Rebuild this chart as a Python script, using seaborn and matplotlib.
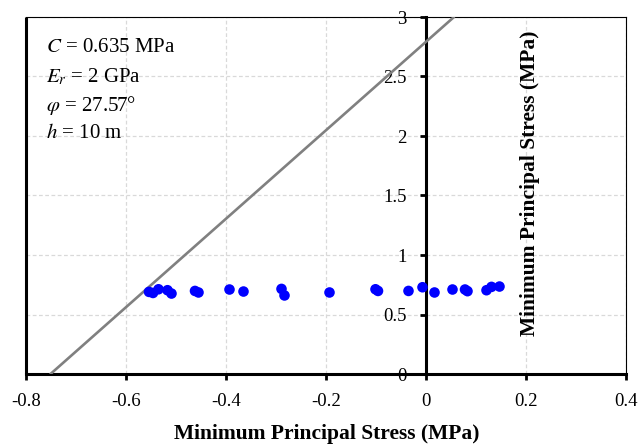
import numpy as np
import pandas as pd
import matplotlib
matplotlib.use("Agg")
import matplotlib.pyplot as plt
import seaborn as sns

# ---- data ----
sigma3_pts = [-0.554, -0.546, -0.535, -0.517, -0.509, -0.462, -0.455, -0.393, -0.365,
              -0.289, -0.283, -0.193, -0.101, -0.096, -0.035, -0.007, 0.017, 0.053,
              0.078, 0.083, 0.121, 0.131, 0.147]
sigma1_pts = [0.690, 0.681, 0.712, 0.704, 0.676, 0.698, 0.685, 0.710, 0.693,
              0.715, 0.660, 0.685, 0.712, 0.698, 0.698, 0.729, 0.685, 0.710,
              0.710, 0.696, 0.704, 0.732, 0.735]
env_sigma3 = [-0.751, 0.056]
env_sigma1 = [0.0, 3.0]
x_ticks = [-0.8, -0.6, -0.4, -0.2, 0.0, 0.2, 0.4]
x_ticklabels = ["-0.8", "-0.6", "-0.4", "-0.2", "0", "0.2", "0.4"]
y_ticks = [0, 0.5, 1, 1.5, 2, 2.5, 3]
y_ticklabels = ["0", "0.5", "1", "1.5", "2", "2.5", "3"]
params = [r"$C$ = 0.635 MPa", r"$E_r$ = 2 GPa", r"$\varphi$ = 27.57°", r"$h$ = 10 m"]
xlabel = "Minimum Principal Stress (MPa)"
ylabel = "Minimum Principal Stress (MPa)"

sns.set_style("white")
plt.rcParams["font.family"] = ["Liberation Serif", "DejaVu Serif"]
plt.rcParams["mathtext.fontset"] = "stix"
plt.rcParams["text.color"] = "black"
plt.rcParams["axes.labelcolor"] = "black"
plt.rcParams["xtick.color"] = "black"
plt.rcParams["ytick.color"] = "black"

fig = plt.figure(figsize=(6.39, 4.48), dpi=100)
ax = fig.add_axes([26/639, 1 - 374/448, 600/639, 357/448])

pts = pd.DataFrame({"s3": sigma3_pts, "s1": sigma1_pts})
env = pd.DataFrame({"s3": env_sigma3, "s1": env_sigma1})

ax.grid(True, color="#d9d9d9", linestyle=(0, (3, 2)), linewidth=0.9)
ax.set_axisbelow(True)

sns.lineplot(data=env, x="s3", y="s1", ax=ax, color="#808080", linewidth=1.9, zorder=3)
sns.scatterplot(data=pts, x="s3", y="s1", ax=ax, color="#0000FF", s=58,
                edgecolor="none", zorder=4, clip_on=False)

ax.set_xlim(-0.8, 0.4)
ax.set_ylim(0, 3)
ax.set_xticks(x_ticks)
ax.set_xticklabels(x_ticklabels)
ax.set_yticks(y_ticks)
ax.set_yticklabels(y_ticklabels)
ax.set_xlabel("")
ax.set_ylabel("")

for s in ["top", "right"]:
    ax.spines[s].set_visible(True)
    ax.spines[s].set_color("black")
    ax.spines[s].set_linewidth(0.8)
ax.spines["left"].set_position(("data", 0))
ax.spines["left"].set_linewidth(2.2)
ax.spines["left"].set_color("black")
ax.spines["bottom"].set_linewidth(2.2)
ax.spines["bottom"].set_color("black")
# plot-area frame on left
ax.plot([0, 0], [0, 1], transform=ax.transAxes, color="black", lw=2.2,
        clip_on=False, zorder=5, solid_capstyle="butt")

ax.tick_params(axis="both", which="major", labelsize=13.5, colors="black",
               labelcolor="black", direction="out", length=4, width=2,
               bottom=True, left=True)
ax.tick_params(axis="x", pad=10)
ax.tick_params(axis="y", pad=10)

fig.text(327/639, 1 - 434/448, xlabel, ha="center", va="center",
         fontsize=15.5, fontweight="bold", color="black")
ax.text(0.207, 1.60, ylabel, rotation=90, ha="center", va="center",
        fontsize=15.5, fontweight="bold", color="black")

for i, t in enumerate(params):
    ax.text(-0.760, 2.74 - i * 0.24, t, ha="left", va="center", fontsize=15,
            color="black")

fig.savefig("out.png", dpi=100)
